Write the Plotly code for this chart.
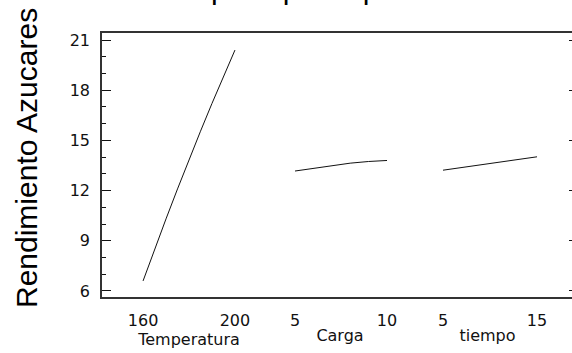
import plotly.graph_objects as go

# ---- data ----
temp_x = [160, 165, 170, 175, 180, 185, 190, 195, 200]
temp_y = [6.6, 8.48, 10.31, 12.1, 13.85, 15.55, 17.21, 18.83, 20.4]
carga_x = [5, 6, 7, 8, 9, 10]
carga_y = [13.17, 13.33, 13.50, 13.64, 13.74, 13.80]
tiempo_x = [5, 10, 15]
tiempo_y = [13.22, 13.63, 14.02]

temp_ticks = [160, 200]
carga_ticks = [5, 10]
tiempo_ticks = [5, 15]
factor_names = ["Temperatura", "Carga", "tiempo"]
y_title = "Rendimiento Azucares"
chart_title = "Gráfica de Efectos principales para Rendimiento Azucares"

LINE = "#111111"
TXT = "#111111"
tick_font = dict(family="DejaVu Sans", size=16, color=TXT)

fig = go.Figure()
fig.add_trace(go.Scatter(x=temp_x, y=temp_y, mode="lines", xaxis="x", yaxis="y",
                         line=dict(color=LINE, width=1), showlegend=False))
fig.add_trace(go.Scatter(x=carga_x, y=carga_y, mode="lines", xaxis="x2", yaxis="y",
                         line=dict(color=LINE, width=1), showlegend=False))
fig.add_trace(go.Scatter(x=tiempo_x, y=tiempo_y, mode="lines", xaxis="x3", yaxis="y",
                         line=dict(color=LINE, width=1), showlegend=False))
fig.add_trace(go.Scatter(x=[], y=[], xaxis="x3", yaxis="y2", showlegend=False))

yr = [5.58, 21.48]


def xax(domain, rng, ticks, title):
    return dict(domain=domain, range=rng, anchor="y", tickvals=ticks,
                ticktext=[str(t) for t in ticks], ticks="", showline=False,
                showgrid=False, zeroline=False, tickfont=tick_font,
                ticklabelstandoff=11,
                title=dict(text=title, font=tick_font, standoff=0))


fig.update_layout(
    width=572, height=353,
    margin=dict(l=101, r=0, t=32, b=55),
    paper_bgcolor="white", plot_bgcolor="white",
    xaxis=xax([0, 0.3737], [141.7, 218.3], temp_ticks, factor_names[0]),
    xaxis2=xax([0.3737, 0.6412], [4.022, 10.87], carga_ticks, factor_names[1]),
    xaxis3=xax([0.6412, 1], [0.745, 18.72], tiempo_ticks, factor_names[2]),
    yaxis=dict(range=yr, tick0=0, dtick=3, ticks="inside", ticklen=10,
               tickwidth=1, tickcolor=LINE, showgrid=False, zeroline=False,
               showline=False, tickfont=tick_font, ticklabelstandoff=10,
               minor=dict(dtick=1, ticks="inside", ticklen=5, tickwidth=1,
                          tickcolor=LINE, showgrid=False)),
    yaxis2=dict(range=yr, overlaying="y", side="right", anchor="x3",
                tick0=0, dtick=3, ticks="inside", ticklen=3, tickwidth=1,
                tickcolor=LINE, showticklabels=False, showgrid=False,
                zeroline=False, showline=False),
    shapes=[dict(type="rect", xref="paper", yref="paper", x0=0, x1=1.0149,
                 y0=0, y1=1, line=dict(color="#333333", width=2))],
    annotations=[
        dict(text=y_title, textangle=-90, xref="paper", yref="paper",
             x=-0.1592, y=0.5263, xanchor="center", yanchor="middle",
             showarrow=False,
             font=dict(family="Liberation Sans", size=30, color="#000000")),
        dict(text=chart_title, xref="paper", yref="paper",
             x=0.5159, y=1.094, xanchor="center", yanchor="bottom",
             showarrow=False,
             font=dict(family="Liberation Sans", size=30, color="#000000")),
    ],
)

fig.write_html("out.html", config={"displayModeBar": False},
               post_script="document.body.style.margin='0';")
